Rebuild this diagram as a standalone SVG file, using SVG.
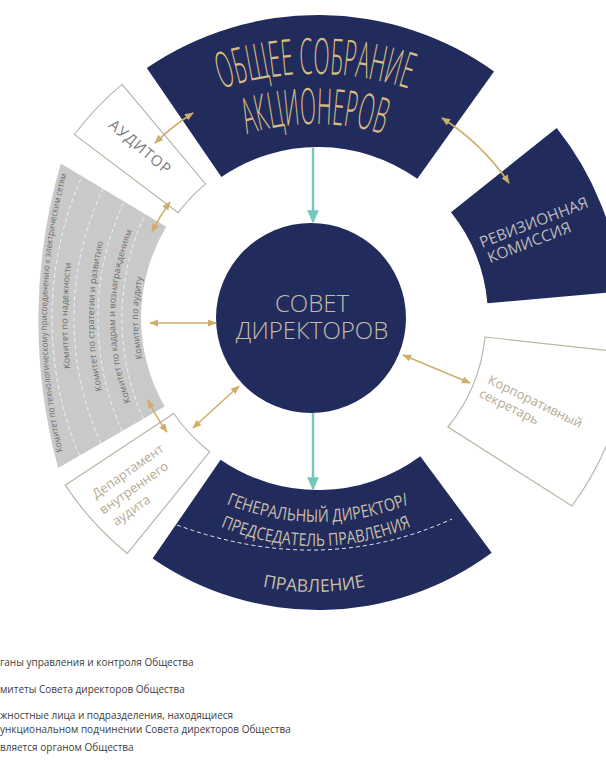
<svg xmlns="http://www.w3.org/2000/svg" width="606" height="760" viewBox="0 0 606 760">
<style>
.navy{fill:#222c5c}
.box{fill:#ffffff;stroke:#bdb5a5;stroke-width:1.2}
.gold{stroke:#cfae6a;stroke-width:1.6;fill:none;marker-start:url(#ga);marker-end:url(#ga)}
.teal{stroke:#72c6ba;stroke-width:2.4;fill:none;marker-end:url(#ta)}
.title{font-family:"Open Sans","DejaVu Sans",sans-serif;fill:#d6bb82;font-size:50px;font-weight:300}
.lt{font-family:"Open Sans","DejaVu Sans",sans-serif}
.com{font-family:"Open Sans","DejaVu Sans",sans-serif;font-size:9px;fill:#6e6e6e}
.leg{font-family:"Open Sans","DejaVu Sans",sans-serif;font-size:10px;fill:#3d3d3d}
.dash{stroke:#f4f4f4;stroke-width:1;stroke-dasharray:4 3;fill:none}
</style>
<defs>
<marker id="ga" viewBox="0 0 10 10" refX="9" refY="5" markerWidth="9" markerHeight="9" markerUnits="userSpaceOnUse" orient="auto-start-reverse"><path d="M0,1 L10,5 L0,9 z" fill="#cfae6a"/></marker>
<marker id="ta" viewBox="0 0 10 10" refX="9" refY="5" markerWidth="13" markerHeight="13" markerUnits="userSpaceOnUse" orient="auto"><path d="M0,0.5 L10,5 L0,9.5 z" fill="#72c6ba"/></marker>
<path id="t1" d="M142.9,128.2 A300 300 0 0 1 487.1,128.2"/>
<path id="t2" d="M167.2,177.8 A230 230 0 0 1 462.8,177.8"/>
<path id="b1" d="M108.4,401 A242 242 0 0 0 527.6,401"/>
<path id="b2" d="M103.8,423.5 A245 245 0 0 0 528.2,423.5"/>
<path id="b3" d="M100.1,468.5 A247 247 0 0 0 527.9,468.5"/>
<path id="c1" d="M162.1,408 A180 180 0 0 1 162.1,228"/>
<path id="c2" d="M139.1,421.3 A233 233 0 0 1 141,211.6"/>
<path id="c3" d="M115.7,434.8 A319 319 0 0 1 117.8,197.7"/>
<path id="c4" d="M88,450.8 A430 430 0 0 1 90.3,181.2"/>
<path id="c5" d="M65.7,463.7 A560 560 0 0 1 68.2,167.9"/>
</defs>

<g id="obshee-sobranie">
<path class="navy" d="M221.4,176.9 L146.8,68 A303 303 0 0 1 494,71.4 L417.3,178.8 A171 171 0 0 0 221.4,176.9 Z"/>
<text class="title"><textPath href="#t1" startOffset="50%" text-anchor="middle" textLength="190" lengthAdjust="spacingAndGlyphs">ОБЩЕЕ СОБРАНИЕ</textPath></text>
<text class="title"><textPath href="#t2" startOffset="50%" text-anchor="middle" textLength="138" lengthAdjust="spacingAndGlyphs">АКЦИОНЕРОВ</textPath></text>
</g>

<g id="revizionnaya">
<path class="navy" d="M451,212.2 L556.7,128.1 A305 305 0 0 1 621.8,291.4 L487.4,303.2 A170 170 0 0 0 451,212.2 Z"/>
<text class="lt" font-size="15.5" fill="#bcb9bb" transform="translate(482,248) rotate(-21)">РЕВИЗИОННАЯ<tspan x="2" y="17">КОМИССИЯ</tspan></text>
</g>

<g id="auditor">
<path class="box" stroke="#8c8c8c" d="M178.2,212.7 L74.4,134.5 A305 305 0 0 1 122,84.4 L205.5,183.9 A175 175 0 0 0 178.2,212.7 Z"/>
<text class="lt" font-size="15" fill="#7a7a7a" letter-spacing="1" text-anchor="middle" transform="translate(137,151) rotate(40)">АУДИТОР</text>
</g>

<g id="komitety">
<path fill="#c9c9c9" d="M166.3,226.8 L60.8,163.5 A560 560 0 0 0 58.2,468 L164.7,406.5 A177 177 0 0 1 166.3,226.8 Z"/>
<path class="dash" d="M143.4,418.8 A246 246 0 0 1 145.2,214.1"/>
<path class="dash" d="M122.1,431.1 A275 275 0 0 1 124.1,201.5"/>
<path class="dash" d="M100.8,443.4 A304 304 0 0 1 103,188.8"/>
<path class="dash" d="M79.5,455.7 A354 354 0 0 1 81.9,176.2"/>
<text class="com"><textPath href="#c1" startOffset="50%" text-anchor="middle">Комитет по аудиту</textPath></text>
<text class="com"><textPath href="#c2" startOffset="50%" text-anchor="middle">Комитет по кадрам и вознаграждениям</textPath></text>
<text class="com"><textPath href="#c3" startOffset="50%" text-anchor="middle">Комитет по стратегии и развитию</textPath></text>
<text class="com"><textPath href="#c4" startOffset="50%" text-anchor="middle">Комитет по надежности</textPath></text>
<text class="com"><textPath href="#c5" startOffset="51%" text-anchor="middle" textLength="280" lengthAdjust="spacingAndGlyphs">Комитет по технологическому присоединению к электрическим сетям</textPath></text>
</g>

<g id="departament">
<path class="box" d="M173.7,413.5 L65.3,485.2 A303 303 0 0 0 127.3,553.5 L209.8,451.7 A172 172 0 0 1 173.7,413.5 Z"/>
<text class="lt" font-size="13" fill="#b5aa95" transform="translate(96,499) rotate(-35)">Департамент<tspan x="-3" y="17">внутреннего</tspan><tspan x="1" y="34">аудита</tspan></text>
</g>

<g id="korp-sekretar">
<path class="box" d="M485,337 L630,353 A312 312 0 0 1 572,506 L448,427 A170 170 0 0 0 485,337 Z"/>
<text class="lt" font-size="13" fill="#b5aa95" transform="translate(487,383) rotate(26)">Корпоративный<tspan x="-2" y="16">секретарь</tspan></text>
</g>

<g id="pravlenie">
<path class="navy" d="M220.6,459.7 A172 172 0 0 0 420.3,456.3 L491.7,552.7 A292 292 0 0 1 152.6,558.6 Z"/>
<path d="M177,525 Q321.5,578 452,519" stroke="#e8e8ee" stroke-width="1" stroke-dasharray="4 3" fill="none"/>
<text class="lt" font-size="17.5" fill="#c8bea9"><textPath href="#b1" startOffset="50%" text-anchor="middle" textLength="188" lengthAdjust="spacingAndGlyphs">ГЕНЕРАЛЬНЫЙ ДИРЕКТОР/</textPath></text>
<text class="lt" font-size="17.5" fill="#c8bea9"><textPath href="#b2" startOffset="50%" text-anchor="middle" textLength="196" lengthAdjust="spacingAndGlyphs">ПРЕДСЕДАТЕЛЬ ПРАВЛЕНИЯ</textPath></text>
<text class="lt" font-size="17.5" fill="#c8bea9"><textPath href="#b3" startOffset="50%" text-anchor="middle">ПРАВЛЕНИЕ</textPath></text>
</g>

<g id="sovet">
<circle cx="311" cy="318" r="95" fill="#222c5c"/>
<text class="lt" font-size="24" font-weight="300" fill="#c4bba9" text-anchor="middle"><tspan x="312" y="312">СОВЕТ</tspan><tspan x="312" y="339">ДИРЕКТОРОВ</tspan></text>
</g>

<g id="connectors">
<line class="teal" x1="313" y1="148" x2="313" y2="222"/>
<line class="teal" x1="313" y1="413" x2="313" y2="489"/>
<path class="gold" d="M193,113 A240 240 0 0 0 155,143"/>
<path class="gold" d="M170,202 A187 187 0 0 0 152,232"/>
<path class="gold" d="M442,118 A234 234 0 0 1 509,183"/>
<path class="gold" d="M148,400 A189 189 0 0 0 167,432"/>
<line class="gold" x1="216" y1="323" x2="150" y2="323"/>
<line class="gold" x1="239" y1="386" x2="193" y2="428"/>
<line class="gold" x1="403" y1="355" x2="470" y2="383"/>
</g>

<g id="legend">
<text class="leg" x="0" y="666">ганы управления и контроля Общества</text>
<text class="leg" x="0" y="693">митеты Совета директоров Общества</text>
<text class="leg" x="0" y="719">жностные лица и подразделения, находящиеся</text>
<text class="leg" x="0" y="733">ункциональном подчинении Совета директоров Общества</text>
<text class="leg" x="0" y="751">вляется органом Общества</text>
</g>
</svg>
